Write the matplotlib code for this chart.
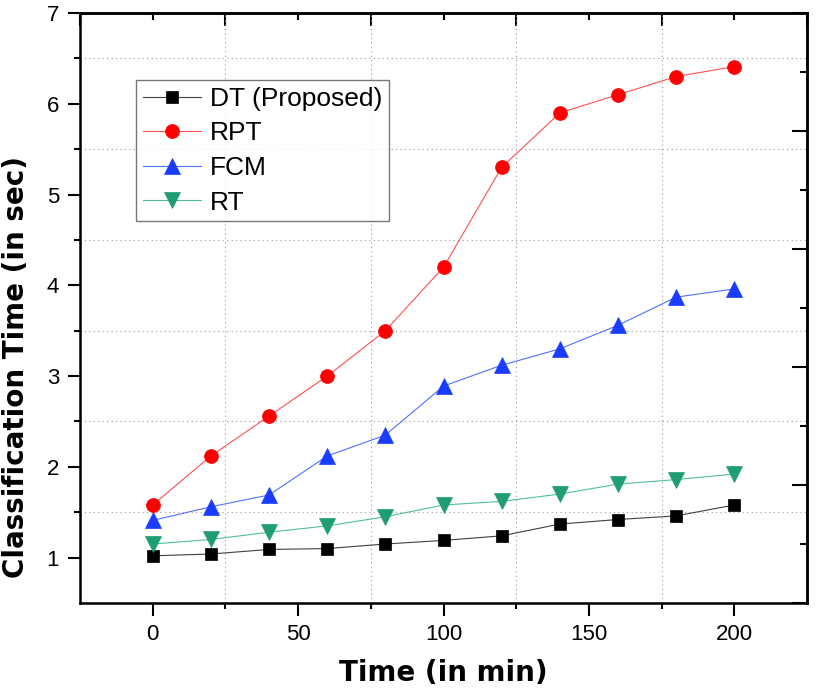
import numpy as np
import matplotlib
matplotlib.use("Agg")
import matplotlib.pyplot as plt
from matplotlib.ticker import MultipleLocator, FixedLocator, NullFormatter

plt.rcParams['font.family'] = ['Liberation Sans', 'DejaVu Sans']

time_min = [0, 20, 40, 60, 80, 100, 120, 140, 160, 180, 200]
dt_vals = [1.02, 1.04, 1.09, 1.10, 1.15, 1.19, 1.24, 1.37, 1.42, 1.46, 1.58]
rpt_vals = [1.58, 2.12, 2.56, 3.00, 3.50, 4.20, 5.30, 5.90, 6.10, 6.30, 6.41]
fcm_vals = [1.41, 1.56, 1.69, 2.12, 2.35, 2.89, 3.12, 3.30, 3.56, 3.87, 3.96]
rt_vals = [1.15, 1.20, 1.28, 1.35, 1.45, 1.58, 1.62, 1.70, 1.81, 1.86, 1.92]
labels = ["DT (Proposed)", "RPT", "FCM", "RT"]

fig = plt.figure(figsize=(8.2, 6.89), dpi=100)
ax = fig.add_axes([0.0976, 0.1248, 0.8866, 0.8563])

series = [
    (dt_vals, '#000000', '#404040', 's', 9),
    (rpt_vals, '#ff0000', '#ff5050', 'o', 10),
    (fcm_vals, '#1a3cff', '#5070ff', '^', 11),
    (rt_vals, '#1f9e72', '#50c095', 'v', 11),
]
for (vals, mc, lc, mk, ms), lab in zip(series, labels):
    ax.plot(time_min, vals, color=lc, lw=0.8, marker=mk, ms=ms,
            markerfacecolor=mc, markeredgecolor=mc, markeredgewidth=0.5, label=lab, zorder=3)

ax.set_xlim(-25, 225)
ax.set_ylim(0.5, 7)

ax.xaxis.set_major_locator(FixedLocator([0, 50, 100, 150, 200]))
ax.xaxis.set_minor_locator(FixedLocator([25, 75, 125, 175]))
ax.yaxis.set_major_locator(MultipleLocator(1))
ax.yaxis.set_minor_locator(FixedLocator([1.5, 2.5, 3.5, 4.5, 5.5, 6.5]))

ax.tick_params(axis='both', which='major', direction='out', length=9, width=1.5, labelsize=16, pad=6)
ax.tick_params(axis='both', which='minor', direction='out', length=4, width=1.5)
ax.tick_params(top=False, right=False, which='both')
ax.grid(True, which='minor', linestyle=(0, (1, 3)), color='#999999', lw=0.8)
ax.grid(False, which='major')

for s in ax.spines.values():
    s.set_linewidth(1.8)

# top secondary axis (inward ticks)
top = ax.secondary_xaxis('top')
top.xaxis.set_major_locator(FixedLocator([-25, 25, 75, 125, 175, 225]))
top.xaxis.set_minor_locator(FixedLocator([0, 50, 100, 150, 200]))
top.xaxis.set_major_formatter(NullFormatter())
top.tick_params(which='major', direction='in', length=9, width=1.5)
top.tick_params(which='minor', direction='in', length=5, width=1.5)
top.spines['top'].set_linewidth(1.8)

right = ax.secondary_yaxis('right')
right.yaxis.set_major_locator(FixedLocator(list(np.arange(0.5, 7.01, 1.3))))
right.yaxis.set_minor_locator(FixedLocator(list(np.arange(1.15, 7.0, 1.3))))
right.yaxis.set_major_formatter(NullFormatter())
right.tick_params(which='major', direction='in', length=11, width=1.5)
right.tick_params(which='minor', direction='in', length=5, width=1.5)
right.spines['right'].set_linewidth(1.8)

ax.set_xlabel('Time (in min)', fontsize=20, fontweight='bold', labelpad=10,
              family=['DejaVu Sans'])
ax.set_ylabel('Classification Time (in sec)', fontsize=20, fontweight='bold',
              family=['DejaVu Sans'])
ax.yaxis.set_label_coords(-0.069, 0.40)

leg = ax.legend(loc='upper left', bbox_to_anchor=(0.077, 0.886), fontsize=19, frameon=True,
                fancybox=False, edgecolor='#555555', handlelength=2.2, borderpad=0.25,
                labelspacing=0.4, handletextpad=0.35, borderaxespad=0)
leg.get_frame().set_linewidth(1.0)

fig.savefig('out.png', dpi=100)
